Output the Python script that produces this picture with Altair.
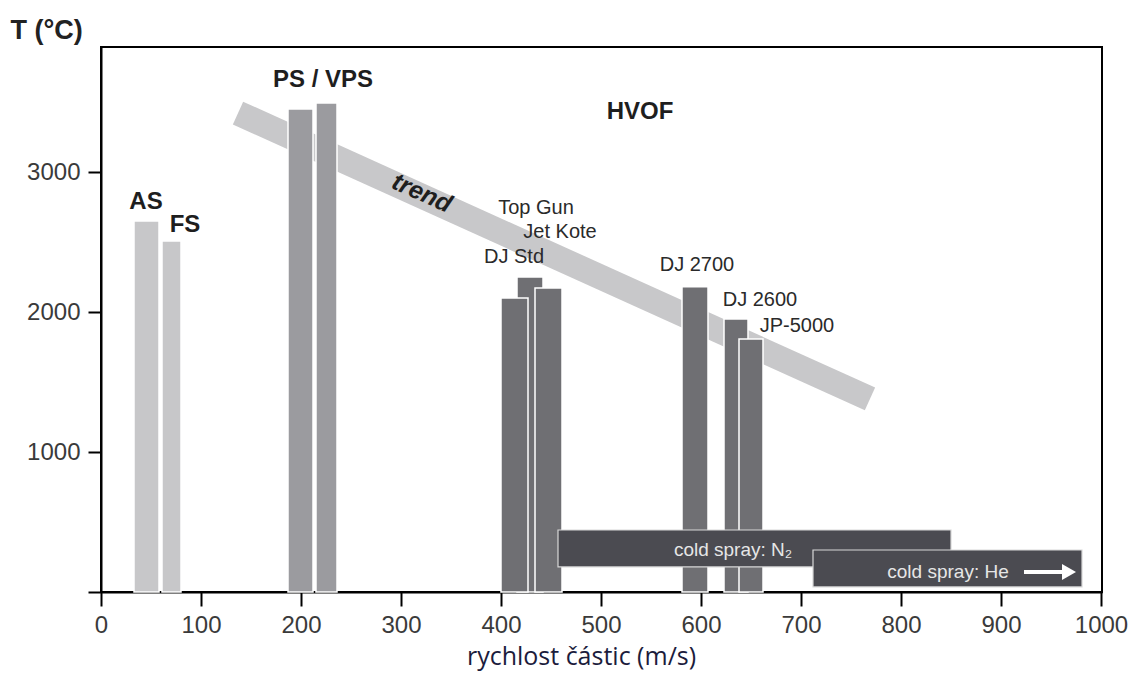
import altair as alt
import pandas as pd

# ---- bars (process ranges) ----
bar_names = ["AS", "FS", "PS", "VPS", "Top Gun", "DJ Std", "Jet Kote", "DJ 2700", "DJ 2600", "JP-5000"]
bar_v0 = [33, 61, 187, 215, 416, 400, 434, 581, 623, 638]
bar_v1 = [58, 80, 212, 236, 442, 427, 461, 607, 647, 662]
bar_t = [2650, 2507, 3450, 3493, 2250, 2100, 2171, 2180, 1950, 1807]
bar_col = ["#c7c7c9", "#c7c7c9", "#9b9b9f", "#9b9b9f", "#6f6f73", "#6f6f73", "#6f6f73", "#6f6f73", "#6f6f73", "#6f6f73"]

# ---- cold spray ranges ----
cs_names = ["N2", "He"]
cs_v0 = [457, 712]
cs_v1 = [850, 981]
cs_t0 = [179, 36]
cs_t1 = [443, 300]

# ---- trend band ----
trend_v = [137, 769]
trend_t = [3421, 1379]

# ---- labels ----
bold_labels = ["AS", "FS", "PS / VPS", "HVOF"]
bold_x = [45, 84, 222, 539]
bold_y = [2786, 2621, 3657, 3429]

hvof_labels = ["Top Gun", "Jet Kote", "DJ Std", "DJ 2700", "DJ 2600", "JP-5000"]
hvof_x = [435, 459, 413, 596, 659, 696]
hvof_y = [2743, 2571, 2393, 2336, 2086, 1900]

cs_labels = ["cold spray: N\u2082", "cold spray: He"]
cs_lx = [632, 847]
cs_ly = [300, 143]

arrow_v = [923, 966]
arrow_t = [143, 143]

x_ticks = [0, 100, 200, 300, 400, 500, 600, 700, 800, 900, 1000]
y_ticks = [0, 1000, 2000, 3000]

XD = [0, 1001]
YD = [0, 3893]

bars = pd.DataFrame({"name": bar_names, "v0": bar_v0, "v1": bar_v1, "t": bar_t,
                     "t0": [0] * len(bar_t), "col": bar_col, "ord": list(range(len(bar_t)))})
cs = pd.DataFrame({"name": cs_names, "v0": cs_v0, "v1": cs_v1, "t0": cs_t0, "t1": cs_t1})
trend = pd.DataFrame({"v": trend_v, "t": trend_t})
bl = pd.DataFrame({"label": bold_labels, "x": bold_x, "y": bold_y})
hl = pd.DataFrame({"label": hvof_labels, "x": hvof_x, "y": hvof_y})
cl = pd.DataFrame({"label": cs_labels, "x": cs_lx, "y": cs_ly})
arrow = pd.DataFrame({"v0": [arrow_v[0]], "v1": [arrow_v[1]], "t": [arrow_t[0]]})
trend_lab = pd.DataFrame({"label": ["trend"], "x": [321], "y": [2850]})

xs = alt.Scale(domain=XD, nice=False, zero=False)
ys = alt.Scale(domain=YD, nice=False, zero=False)

x_axis = alt.Axis(values=x_ticks, format="d", title="rychlost částic (m/s)", grid=False,
                  titleX=480, titleY=64, titleAlign="center", titleBaseline="middle",
                  titleFont="Open Sans", titleFontSize=25, titleFontWeight="normal", titleColor="#1c1c3c",
                  labelFont="Liberation Sans", labelFontSize=24, labelColor="#3a3a3a",
                  labelPadding=7, tickSize=14, tickWidth=2, tickColor="black",
                  domainColor="black", domainWidth=2, labelFlush=False)
y_axis = alt.Axis(values=y_ticks, format="d", title="T (°C)", grid=False,
                  labelExpr="datum.value == 0 ? '' : datum.label",
                  titleAngle=0, titleX=-91, titleY=-17, titleAlign="left", titleBaseline="middle",
                  titleFont="Liberation Sans", titleFontSize=27, titleFontWeight="bold", titleColor="#222222",
                  labelFont="Liberation Sans", labelFontSize=24, labelColor="#3a3a3a",
                  labelPadding=8, tickSize=13, tickWidth=2, tickColor="black",
                  domainColor="black", domainWidth=2, labelFlush=False)

trend_layer = alt.Chart(trend).mark_line(color="#c8c8ca", strokeWidth=25, strokeCap="butt").encode(
    x=alt.X("v:Q", scale=xs, axis=x_axis),
    y=alt.Y("t:Q", scale=ys, axis=y_axis),
)

bar_layer = alt.Chart(bars).mark_rect(stroke="white", strokeWidth=1.5).encode(
    x=alt.X("v0:Q", scale=xs),
    x2="v1:Q",
    y=alt.Y("t0:Q", scale=ys),
    y2="t:Q",
    color=alt.Color("col:N", scale=None),
    order="ord:Q",
)

cs_layer = alt.Chart(cs).mark_rect(color="#4b4b51", stroke="#d8d8d8", strokeWidth=1.2).encode(
    x=alt.X("v0:Q", scale=xs),
    x2="v1:Q",
    y=alt.Y("t0:Q", scale=ys),
    y2="t1:Q",
)

bold_layer = alt.Chart(bl).mark_text(font="Liberation Sans", fontSize=24, fontWeight="bold",
                                     color="#1e1e1e", align="center", baseline="middle").encode(
    x=alt.X("x:Q", scale=xs), y=alt.Y("y:Q", scale=ys), text="label:N")

hvof_layer = alt.Chart(hl).mark_text(font="Liberation Sans", fontSize=20,
                                     color="#2a2a2a", align="center", baseline="middle").encode(
    x=alt.X("x:Q", scale=xs), y=alt.Y("y:Q", scale=ys), text="label:N")

trend_text = alt.Chart(trend_lab).mark_text(font="Liberation Sans", fontSize=25, fontWeight="bold",
                                            fontStyle="italic", color="#1e1e1e", angle=24,
                                            align="center", baseline="middle").encode(
    x=alt.X("x:Q", scale=xs), y=alt.Y("y:Q", scale=ys), text="label:N")

cs_text = alt.Chart(cl).mark_text(font="Liberation Sans", fontSize=19, color="#e6e6e6",
                                  align="center", baseline="middle").encode(
    x=alt.X("x:Q", scale=xs), y=alt.Y("y:Q", scale=ys), text="label:N")

arrow_line = alt.Chart(arrow).mark_rule(color="white", strokeWidth=4).encode(
    x=alt.X("v0:Q", scale=xs), x2="v1:Q", y=alt.Y("t:Q", scale=ys))

arrow_head = alt.Chart(pd.DataFrame({"v": [arrow_v[1] + 2], "t": [arrow_t[0]]})).mark_point(
    shape="triangle-right", filled=True, color="white", opacity=1, size=260).encode(
    x=alt.X("v:Q", scale=xs), y=alt.Y("t:Q", scale=ys))

chart = alt.layer(
    trend_layer, bar_layer, cs_layer, bold_layer, hvof_layer, trend_text, cs_text, arrow_line, arrow_head
).properties(
    width=1001, height=545,
    autosize=alt.AutoSizeParams(type="none"),
    padding={"left": 93, "top": 39, "right": 30, "bottom": 80},
).configure_view(stroke="black", strokeWidth=2)

chart.save("out.html", embed_options={"renderer": "svg", "actions": False})
